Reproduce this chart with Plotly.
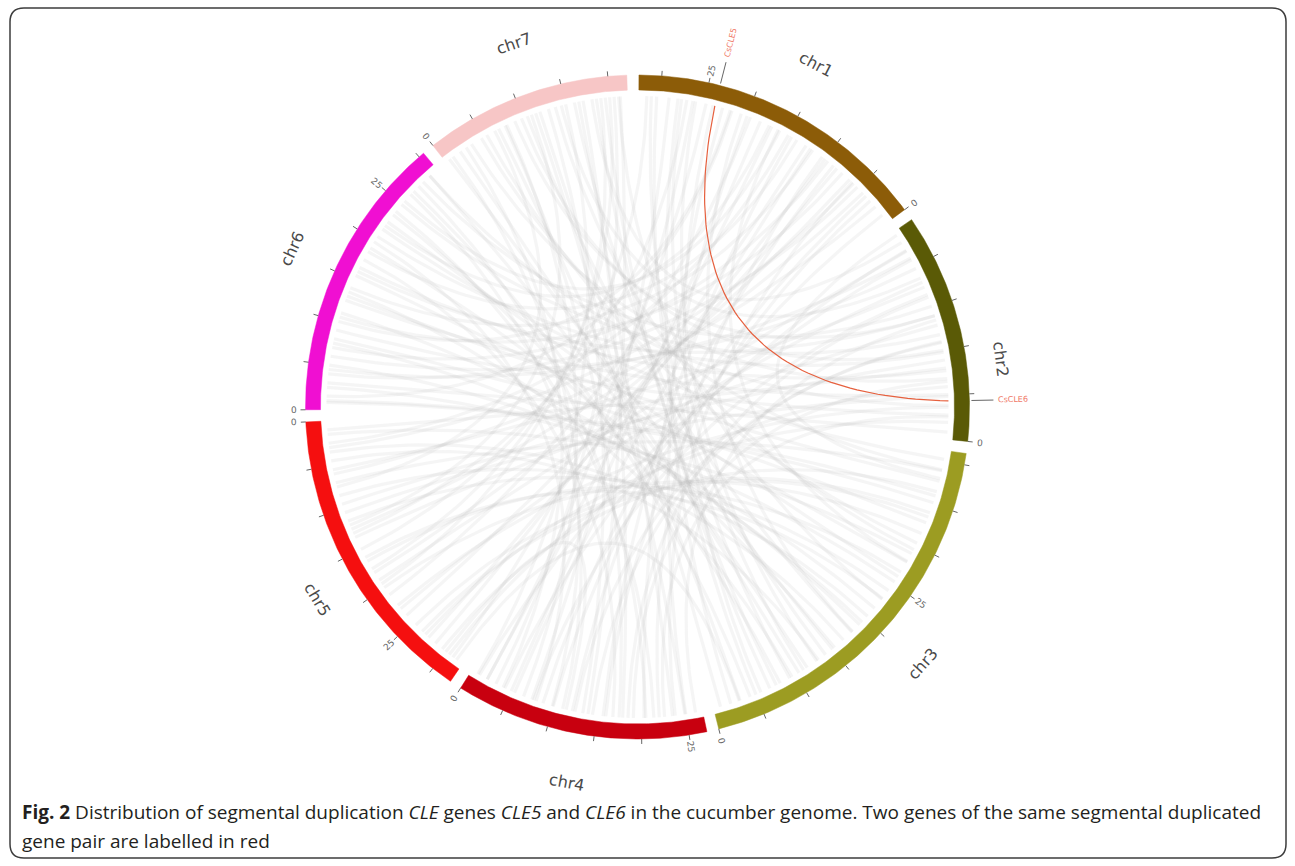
import numpy as np
import plotly.graph_objects as go

# ---------------- data ----------------
CHR_NAMES = ["chr1", "chr2", "chr3", "chr4", "chr5", "chr6", "chr7"]
CHR_LEN = [32.4, 24.5, 41.2, 26.9, 32.3, 30.6, 22.0]          # Mb
CHR_COLORS = ["#8c5c08", "#5a5a06", "#9c9c22", "#c8000f", "#f50f0f", "#f00fd2", "#f7c6c6"]
TICK_STEP = 5
TICK_LABEL_STEP = 25

GENE_NAMES = ["CsCLE5", "CsCLE6"]
GENE_CHR = [1, 2]
GENE_POS = [23.8, 4.3]

LINK_CHR_A = [1]*27 + [2]*23 + [3]*33 + [4]*23 + [5]*13 + [6]*11 + [7]*11
LINK_POS_A = [1.0, 2.2, 3.1, 4.3, 5.2, 6.4, 7.5, 8.3, 9.6, 10.4, 11.7, 12.6, 13.8, 14.9, 16.2, 17.3, 18.4,
              19.6, 20.7, 21.8, 22.9, 24.8, 26.3, 27.6, 29.0, 30.4, 31.5,
              0.8, 1.9, 2.7, 3.6, 5.0, 5.9, 6.8, 7.7, 8.9, 9.8, 10.9, 11.8, 12.9, 14.0, 15.1, 16.2, 17.4,
              18.5, 19.7, 20.8, 21.9, 23.0, 24.0,
              0.8, 2.0, 3.1, 4.3, 5.6, 6.7, 8.0, 9.2, 10.4, 11.5, 12.8, 14.0, 15.3, 16.6, 17.9, 19.1, 20.4,
              21.6, 22.9, 24.1, 25.3, 26.6, 27.9, 29.0, 30.3, 31.5, 32.8, 34.0, 35.2, 36.5, 37.7, 38.9, 40.2,
              0.8, 2.0, 3.1, 4.2, 5.4, 6.5, 7.7, 8.8, 9.9, 11.1, 12.2, 13.4, 14.5, 15.7, 16.8, 17.9, 19.1,
              20.3, 21.4, 22.6, 23.8, 24.9, 26.1,
              1.0, 3.0, 4.5, 7.5, 10.5, 13.0, 16.0, 19.5, 23.0, 26.5, 27.5, 30.0, 31.5,
              1.0, 4.5, 7.5, 10.0, 13.5, 16.0, 19.8, 22.5, 25.5, 27.8, 29.5,
              0.5, 2.8, 4.8, 7.8, 9.8, 11.0, 13.8, 16.5, 18.5, 20.0, 21.2]
LINK_CHR_B = [4, 5, 4, 5, 6, 5, 6, 5, 6, 4, 6, 5, 6, 5, 3, 6, 4, 5, 3, 6, 4, 5, 4, 3, 4, 3, 5,
              6, 5, 6, 5, 6, 5, 7, 6, 5, 6, 4, 6, 5, 7, 6, 4, 5, 7, 6, 4, 5, 7, 3,
              7, 1, 7, 6, 1, 7, 6, 1, 7, 6, 1, 7, 6, 5, 7, 6, 5, 6, 7, 5, 6, 5, 6, 5, 7, 5, 6, 5, 6, 5, 6, 5, 6,
              7, 1, 7, 2, 1, 7, 2, 1, 7, 6, 1, 7, 2, 1, 6, 7, 2, 1, 6, 2, 1, 7, 2,
              2, 1, 3, 7, 2, 1, 3, 7, 2, 3, 1, 4, 3,
              3, 2, 3, 1, 3, 2, 4, 3, 1, 4, 2,
              3, 4, 3, 4, 2, 5, 3, 4, 3, 5, 4]
LINK_POS_B = [10.0, 6.0, 16.0, 12.5, 4.0, 18.0, 10.5, 24.0, 7.0, 22.0, 14.0, 28.5, 18.5, 2.5, 28.0, 22.0,
              5.0, 21.0, 18.0, 1.5, 25.0, 31.0, 2.0, 11.0, 7.5, 5.0, 15.0,
              3.0, 27.0, 9.0, 22.5, 12.5, 30.5, 3.5, 16.5, 9.5, 20.5, 12.5, 25.0, 13.5, 9.0, 28.5, 18.5, 5.5,
              14.5, 6.0, 1.0, 19.0, 18.0, 38.0,
              12.0, 28.0, 7.0, 27.0, 24.0, 19.5, 23.5, 31.0, 2.0, 29.5, 26.0, 16.0, 19.0, 3.5, 10.5, 11.0, 8.5,
              5.0, 21.0, 11.5, 2.5, 16.5, 15.5, 1.5, 5.5, 20.0, 8.0, 25.5, 0.8, 29.5, 13.0, 7.0, 21.5,
              15.0, 17.0, 20.5, 22.0, 12.0, 8.0, 16.5, 3.8, 1.0, 26.5, 8.8, 13.0, 11.0, 14.5, 17.5, 17.0, 6.5,
              20.0, 24.0, 2.5, 6.0, 11.5, 13.5,
              8.0, 5.8, 13.0, 6.5, 4.8, 27.0, 23.0, 19.0, 18.0, 33.5, 10.0, 11.5, 3.0,
              36.0, 21.0, 19.5, 22.0, 9.5, 14.0, 8.0, 26.0, 16.0, 20.5, 3.8,
              15.0, 4.0, 39.0, 17.5, 10.0, 12.0, 29.5, 23.5, 7.5, 17.5, 14.0]

CAPTION_1 = ("<b>Fig. 2</b> Distribution of segmental duplication <i>CLE</i> genes <i>CLE5</i> and "
             "<i>CLE6</i> in the cucumber genome. Two genes of the same segmental duplicated")
CAPTION_2 = "gene pair are labelled in red"

# ---------------- layout parameters ----------------
W, H = 1295, 866
CX, CY = 637.5, 407.0
R_OUT, R_IN, R_LINK = 332.0, 317.0, 311.0
GAP = 2.1
START = 0.25
REVERSED = [True, True, True, True, True, False, False]
R_CHRLAB = 380.0
LABEL_DTHETA = [0.7, 6.8, 0.0, 0.6, -1.9, 0.0, 1.2]     # small placement nudges of chromosome names
LABEL_DR = [6, -14, 4, 2, -6, 0, 4]

total = sum(CHR_LEN)
deg_per_mb = (360.0 - GAP * len(CHR_LEN)) / total
starts = []
a = START
for L in CHR_LEN:
    starts.append(a)
    a += L * deg_per_mb + GAP


def ang(ci, pos):
    s = starts[ci]
    e = s + CHR_LEN[ci] * deg_per_mb
    return e - pos * deg_per_mb if REVERSED[ci] else s + pos * deg_per_mb


def xy(theta, r):
    t = np.radians(theta)
    return CX + r * np.sin(t), CY - r * np.cos(t)


def radial_angle(theta):
    theta = theta % 360
    return theta - 90 if theta <= 180 else theta - 270


def tangent_angle(theta):
    theta = theta % 360
    if theta <= 90:
        return theta
    if theta >= 270:
        return theta - 360
    return theta - 180


def bezier(t1, t2, r, ctrl_frac=0.0):
    x0, y0 = xy(t1, r)
    x2, y2 = xy(t2, r)
    d = (t2 - t1 + 540) % 360 - 180
    mid = t1 + d / 2
    xc, yc = xy(mid, r * ctrl_frac)
    t = np.linspace(0, 1, 70)
    bx = (1 - t) ** 2 * x0 + 2 * (1 - t) * t * xc + t ** 2 * x2
    by = (1 - t) ** 2 * y0 + 2 * (1 - t) * t * yc + t ** 2 * y2
    return bx, by


fig = go.Figure()

# gray links
for ca, pa, cb, pb in zip(LINK_CHR_A, LINK_POS_A, LINK_CHR_B, LINK_POS_B):
    bx, by = bezier(ang(ca - 1, pa), ang(cb - 1, pb), R_LINK, ctrl_frac=0.0)
    fig.add_trace(go.Scatter(x=bx, y=by, mode="lines", hoverinfo="skip",
                             line=dict(color="rgba(175,175,175,0.13)", width=3.2), showlegend=False))

# chromosome ring
for i, name in enumerate(CHR_NAMES):
    s = starts[i]
    e = s + CHR_LEN[i] * deg_per_mb
    th = np.linspace(s, e, 120)
    xo, yo = xy(th, R_OUT)
    xi, yi = xy(th[::-1], R_IN)
    fig.add_trace(go.Scatter(x=np.concatenate([xo, xi, xo[:1]]), y=np.concatenate([yo, yi, yo[:1]]),
                             mode="lines", fill="toself", fillcolor=CHR_COLORS[i],
                             line=dict(color=CHR_COLORS[i], width=0.5), hoverinfo="skip",
                             name=name, showlegend=False))

# ticks
tx, ty = [], []
annotations = []
for i in range(len(CHR_NAMES)):
    p = 0
    while p <= CHR_LEN[i] + 1e-9:
        th = ang(i, p)
        x0, y0 = xy(th, R_OUT)
        x1, y1 = xy(th, R_OUT + 5)
        tx += [x0, x1, None]
        ty += [y0, y1, None]
        if p % TICK_LABEL_STEP == 0:
            lx, ly = xy(th, R_OUT + 12)
            annotations.append(dict(x=lx, y=ly, text=str(p), showarrow=False,
                                    textangle=radial_angle(th), xanchor="center", yanchor="middle",
                                    font=dict(family="DejaVu Sans", size=9, color="#666666")))
        p += TICK_STEP
fig.add_trace(go.Scatter(x=tx, y=ty, mode="lines", line=dict(color="#666666", width=1),
                         hoverinfo="skip", showlegend=False))

# chromosome labels
for i, name in enumerate(CHR_NAMES):
    mid = starts[i] + CHR_LEN[i] * deg_per_mb / 2 + LABEL_DTHETA[i]
    lx, ly = xy(mid, R_CHRLAB + LABEL_DR[i])
    annotations.append(dict(x=lx, y=ly, text=name, showarrow=False, textangle=tangent_angle(mid),
                            xanchor="center", yanchor="middle",
                            font=dict(family="DejaVu Sans", size=16, color="#4a4a4a")))

# gene markers and labels
gx, gy = [], []
for gname, gc, gp in zip(GENE_NAMES, GENE_CHR, GENE_POS):
    th = ang(gc - 1, gp)
    x0, y0 = xy(th, R_OUT + 2)
    x1, y1 = xy(th, R_OUT + 24)
    gx += [x0, x1, None]
    gy += [y0, y1, None]
    lx, ly = xy(th, R_OUT + 44)
    annotations.append(dict(x=lx, y=ly, text=gname, showarrow=False, textangle=radial_angle(th),
                            xanchor="center", yanchor="middle",
                            font=dict(family="DejaVu Sans", size=8, color="#f07a68")))
fig.add_trace(go.Scatter(x=gx, y=gy, mode="lines", line=dict(color="#666666", width=1),
                         hoverinfo="skip", showlegend=False))

# red link between the duplicated pair
t1 = ang(GENE_CHR[0] - 1, GENE_POS[0])
t2 = ang(GENE_CHR[1] - 1, GENE_POS[1])
bx, by = bezier(t1, t2, R_LINK, ctrl_frac=0.07)
fig.add_trace(go.Scatter(x=bx, y=by, mode="lines", line=dict(color="#e6603e", width=1.2),
                         hoverinfo="skip", showlegend=False))

# caption
annotations.append(dict(x=20, y=812, text=CAPTION_1, showarrow=False, xanchor="left", yanchor="middle",
                        font=dict(family="Open Sans", size=19, color="#231f20")))
annotations.append(dict(x=20, y=841, text=CAPTION_2, showarrow=False, xanchor="left", yanchor="middle",
                        font=dict(family="Open Sans", size=19, color="#231f20")))

# rounded frame
x0f, y0f, x1f, y1f, rr = 10, 8, 1286, 858, 14
frame = (f"M {x0f+rr},{y0f} L {x1f-rr},{y0f} Q {x1f},{y0f} {x1f},{y0f+rr} "
         f"L {x1f},{y1f-rr} Q {x1f},{y1f} {x1f-rr},{y1f} L {x0f+rr},{y1f} "
         f"Q {x0f},{y1f} {x0f},{y1f-rr} L {x0f},{y0f+rr} Q {x0f},{y0f} {x0f+rr},{y0f} Z")

fig.update_layout(
    width=W, height=H, margin=dict(l=0, r=0, t=0, b=0),
    paper_bgcolor="white", plot_bgcolor="white",
    xaxis=dict(range=[0, W], visible=False, fixedrange=True),
    yaxis=dict(range=[H, 0], visible=False, fixedrange=True),
    annotations=annotations,
    shapes=[dict(type="path", path=frame, xref="x", yref="y", line=dict(color="#3c3c3c", width=1.5))],
    showlegend=False,
)

fig.write_html("out.html")
